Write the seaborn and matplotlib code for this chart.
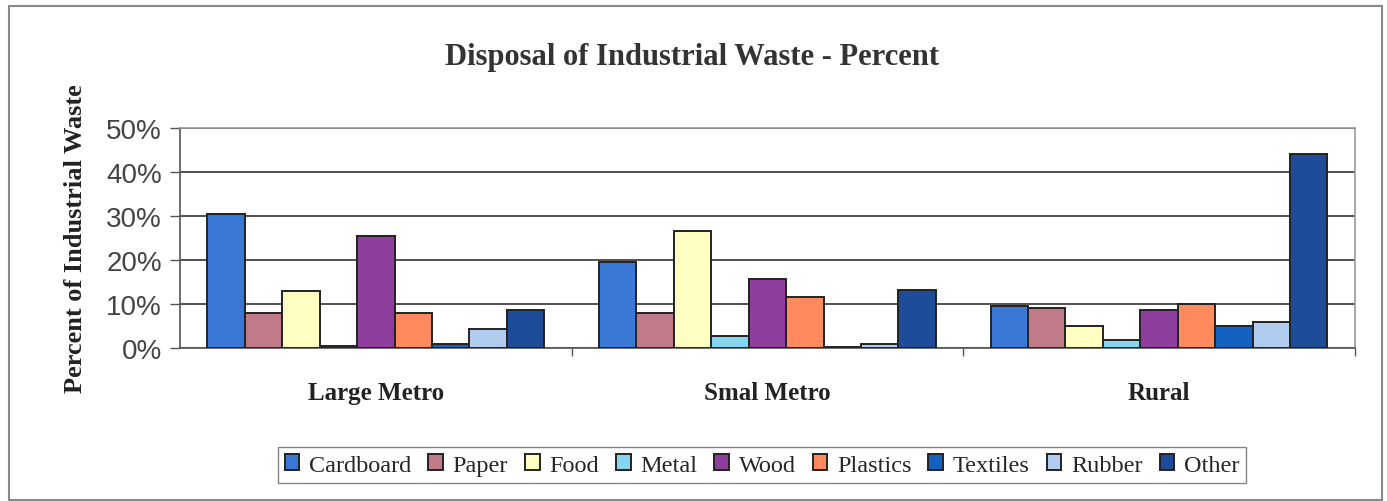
import matplotlib
matplotlib.use("Agg")
import matplotlib.pyplot as plt
from matplotlib.patches import Rectangle
from matplotlib.ticker import FixedLocator, PercentFormatter
import pandas as pd
import seaborn as sns

regions = ["Large Metro", "Smal Metro", "Rural"]
materials = ["Cardboard", "Paper", "Food", "Metal", "Wood",
             "Plastics", "Textiles", "Rubber", "Other"]

cardboard = [30.5, 19.5, 9.5]
paper = [8.0, 8.0, 9.0]
food = [13.0, 26.6, 5.0]
metal = [0.5, 2.7, 1.8]
wood = [25.5, 15.7, 8.6]
plastics = [8.0, 11.6, 10.0]
textiles = [1.0, 0.2, 5.0]
rubber = [4.3, 0.9, 6.0]
other = [8.6, 13.2, 44.0]

colors = ["#3b78d6", "#c07a88", "#ffffc4", "#84d6ee", "#8e3f9e",
          "#ff8a5e", "#1462bf", "#b2ccf0", "#1f4c99"]

series = [cardboard, paper, food, metal, wood, plastics, textiles, rubber, other]
rows = []
for name, vals in zip(materials, series):
    for reg, v in zip(regions, vals):
        rows.append({"Region": reg, "Material": name, "Percent": v})
df = pd.DataFrame(rows)

sns.set_theme(style="white")
plt.rcParams["font.family"] = ["Liberation Serif", "DejaVu Serif"]

fig = plt.figure(figsize=(13.87, 5.02), dpi=100)
ax = fig.add_axes([0.1298, 0.3048, 0.847, 0.4382])

sns.barplot(data=df, x="Region", y="Percent", hue="Material",
            order=regions, hue_order=materials,
            palette=colors, width=0.86, gap=0,
            edgecolor="#222222", linewidth=1.4, saturation=1,
            ax=ax, legend=True, zorder=3)

ax.set_ylim(0, 50)
ax.set_xlim(-0.5, 2.5)
ax.yaxis.set_major_locator(FixedLocator([0, 10, 20, 30, 40, 50]))
ax.yaxis.set_major_formatter(PercentFormatter(decimals=0))
ax.grid(axis="y", color="#333333", linewidth=1.2, zorder=0)
ax.set_axisbelow(True)

for lab in ax.get_yticklabels():
    lab.set_fontfamily("Liberation Sans")
    lab.set_fontsize(20)
    lab.set_color("#444444")
ax.tick_params(axis="y", left=True, length=7, width=1, color="#555555", pad=6)

ax.set_xticks([0, 1, 2])
ax.set_xticklabels(regions, fontsize=18, fontweight="bold", color="#222222")
ax.tick_params(axis="x", bottom=False, pad=18)
ax.set_xticks([0.5, 1.5, 2.5], minor=True)
ax.tick_params(axis="x", which="minor", bottom=True, length=6, width=1, color="#555555")

ax.set_xlabel("")
ax.set_ylabel("Percent of Industrial Waste", fontsize=19, fontweight="bold",
              color="#222222", labelpad=14)

for side in ["left", "bottom"]:
    ax.spines[side].set_color("#555555")
    ax.spines[side].set_linewidth(1.2)
for side in ["top", "right"]:
    ax.spines[side].set_color("#999999")
    ax.spines[side].set_linewidth(1.2)

fig.text(692 / 1387, 1 - 57 / 502, "Disposal of Industrial Waste - Percent",
         fontsize=22, fontweight="bold", color="#333333",
         ha="center", va="center")

handles, labels = ax.get_legend_handles_labels()
ax.legend(handles, labels, loc="center",
          bbox_to_anchor=(762 / 1387, 1 - 466 / 502), bbox_transform=fig.transFigure,
          ncol=9, frameon=True, fancybox=False, edgecolor="#666666",
          fontsize=17.5, handlelength=0.6, handleheight=0.6,
          handletextpad=0.4, columnspacing=0.7, borderpad=0.3)

fig.patches.append(Rectangle((9 / 1387, 0.002), 1373 / 1387, 0.984,
                             transform=fig.transFigure, fill=False,
                             edgecolor="#888888", linewidth=1.5))

fig.savefig("out.png", dpi=100)
